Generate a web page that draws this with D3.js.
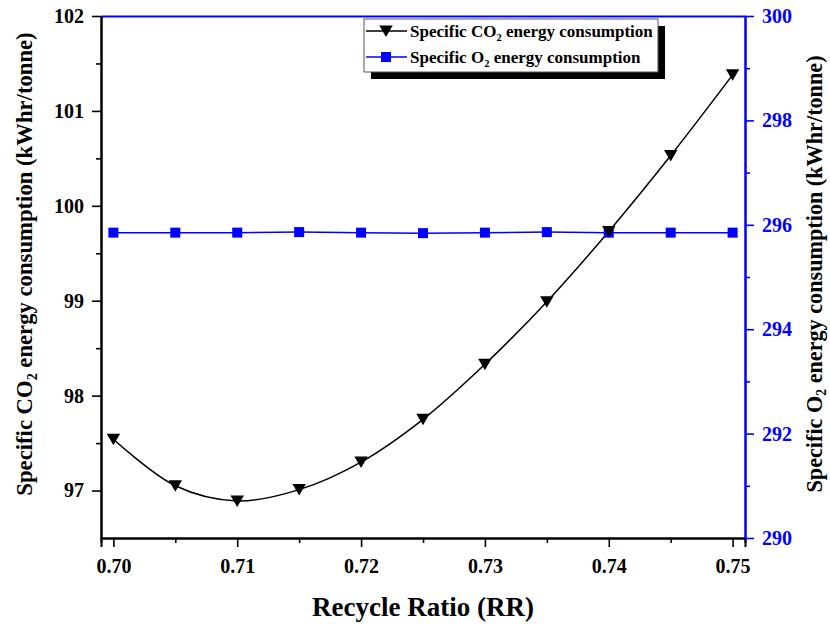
<!DOCTYPE html>
<html lang="en">
<head>
    <meta charset="UTF-8">
    <title>Specific energy consumption vs recycle ratio</title>
    <script src="https://d3js.org/d3.v7.min.js"></script>
</head>
<style>
    html,body {
        margin: 0;
        padding: 0;
        background: #fff;
    }
</style>
<body>
    <div id="svg"></div>
</body>
<script>
    // data
    const recycleRatio = [0.700, 0.705, 0.710, 0.715, 0.720, 0.725, 0.730, 0.735, 0.740, 0.745, 0.750];
    const co2Energy = [97.54, 97.05, 96.89, 97.01, 97.30, 97.75, 98.33, 98.99, 99.73, 100.53, 101.38];
    const o2Energy = [295.85, 295.85, 295.85, 295.86, 295.85, 295.84, 295.85, 295.86, 295.85, 295.85, 295.85];
    const xTicks = [0.70, 0.71, 0.72, 0.73, 0.74, 0.75];
    const leftTicks = [97, 98, 99, 100, 101, 102];
    const rightTicks = [290, 292, 294, 296, 298, 300];

    const width = 830;
    const height = 627;
    const padding = {top: 16, right: 85, bottom: 89, left: 101};
    const innerW = width - padding.left - padding.right;
    const innerH = height - padding.top - padding.bottom;
    const blue = '#0000ff';
    const serif = '"Liberation Serif", "Times New Roman", Times, serif';

    const xScale = d3.scaleLinear().domain([0.699, 0.751]).range([0, innerW]);
    const yLeft = d3.scaleLinear().domain([96.5, 102]).range([innerH, 0]);
    const yRight = d3.scaleLinear().domain([290, 300]).range([innerH, 0]);

    const svg = d3.select('#svg').append('svg')
        .attr('width', width)
        .attr('height', height);
    const g = svg.append('g').attr('transform', `translate(${padding.left}, ${padding.top})`);

    // axis colours, widths, label font
    const styleAxis = (sel, color) => {
        sel.attr('font-family', serif).attr('font-weight', 'bold');
        sel.select('.domain').attr('stroke', color).attr('stroke-width', 2);
        sel.selectAll('.tick line').attr('stroke', color).attr('stroke-width', 1.6);
        sel.selectAll('.tick text').attr('fill', color).attr('font-size', '20px');
    };

    // minor ticks first, then major ticks with labels
    const xMinor = d3.range(0.705, 0.75, 0.01);
    g.append('g').attr('transform', `translate(0, ${innerH})`)
        .call(d3.axisBottom(xScale).tickValues(xMinor).tickSize(5).tickFormat(''))
        .call(s => styleAxis(s, '#000'));
    g.append('g').attr('transform', `translate(0, ${innerH})`)
        .call(d3.axisBottom(xScale).tickValues(xTicks).tickSize(9).tickPadding(12).tickFormat(d3.format('.2f')))
        .call(s => styleAxis(s, '#000'));

    // top frame in blue
    g.append('g')
        .call(d3.axisTop(xScale).tickValues([]).tickSizeOuter(0))
        .call(s => styleAxis(s, blue));

    const leftMinor = d3.range(97.5, 102, 1);
    g.append('g')
        .call(d3.axisLeft(yLeft).tickValues(leftMinor).tickSize(5).tickFormat('').tickSizeOuter(0))
        .call(s => styleAxis(s, '#000'));
    g.append('g')
        .call(d3.axisLeft(yLeft).tickValues(leftTicks).tickSize(9).tickPadding(8).tickSizeOuter(0).tickFormat(d3.format('d')))
        .call(s => styleAxis(s, '#000'));

    const rightMinor = d3.range(291, 300, 2);
    g.append('g').attr('transform', `translate(${innerW}, 0)`)
        .call(d3.axisRight(yRight).tickValues(rightMinor).tickSize(5).tickFormat('').tickSizeOuter(0))
        .call(s => styleAxis(s, blue));
    g.append('g').attr('transform', `translate(${innerW}, 0)`)
        .call(d3.axisRight(yRight).tickValues(rightTicks).tickSize(9).tickPadding(8).tickSizeOuter(0).tickFormat(d3.format('d')))
        .call(s => styleAxis(s, blue));

    // text with a subscript 2
    const subText = (sel, before, after, size, shift) => {
        sel.append('tspan').text(before);
        sel.append('tspan').text('2')
            .attr('font-size', size * 0.62 + 'px')
            .attr('dy', size * shift);
        sel.append('tspan').text(after)
            .attr('dy', -size * shift);
    };

    // lines
    const co2Line = d3.line()
        .x((d, i) => xScale(recycleRatio[i]))
        .y(d => yLeft(d))
        .curve(d3.curveCatmullRom);
    g.append('path').datum(co2Energy)
        .attr('fill', 'none').attr('stroke', '#000').attr('stroke-width', 1.5)
        .attr('d', co2Line);

    const o2Line = d3.line()
        .x((d, i) => xScale(recycleRatio[i]))
        .y(d => yRight(d));
    g.append('path').datum(o2Energy)
        .attr('fill', 'none').attr('stroke', blue).attr('stroke-width', 1.5)
        .attr('d', o2Line);

    const triPath = 'M-6.7,-5.5L6.7,-5.5L0,6Z';
    g.selectAll('.sq').data(o2Energy).enter().append('rect')
        .attr('class', 'sq')
        .attr('x', (d, i) => xScale(recycleRatio[i]) - 5)
        .attr('y', d => yRight(d) - 5)
        .attr('width', 10).attr('height', 10)
        .attr('fill', blue);
    g.selectAll('.tri').data(co2Energy).enter().append('path')
        .attr('class', 'tri')
        .attr('d', triPath)
        .attr('transform', (d, i) => `translate(${xScale(recycleRatio[i])}, ${yLeft(d)})`)
        .attr('fill', '#000');

    // axis titles
    svg.append('text')
        .attr('x', padding.left + innerW / 2)
        .attr('y', 616)
        .attr('text-anchor', 'middle')
        .attr('font-size', '27px')
        .text('Recycle Ratio (RR)');

    const leftTitle = svg.append('text')
        .attr('transform', 'translate(32, 264) rotate(-90)')
        .attr('text-anchor', 'middle')
        .attr('font-size', '22.7px');
    subText(leftTitle, 'Specific CO', ' energy consumption (kWhr/tonne)', 22.7, 0.22);

    const rightTitle = svg.append('text')
        .attr('transform', 'translate(822, 274) rotate(-90)')
        .attr('text-anchor', 'middle')
        .attr('font-size', '22.2px');
    subText(rightTitle, 'Specific O', ' energy consumption (kWhr/tonne)', 22.2, 0.16);

    // legend
    const lg = svg.append('g').attr('transform', 'translate(364, 19)');
    lg.append('rect').attr('x', 7).attr('y', 7).attr('width', 294).attr('height', 53).attr('fill', '#000');
    lg.append('rect').attr('x', 0).attr('y', 0).attr('width', 294).attr('height', 53)
        .attr('fill', '#fff').attr('stroke', '#555').attr('stroke-width', 1);
    const legendRows = [
        {before: 'Specific CO', color: '#000', y: 12, mark: 'tri'},
        {before: 'Specific O', color: blue, y: 38, mark: 'sq'}
    ];
    legendRows.forEach(r => {
        lg.append('line').attr('x1', 2).attr('x2', 43).attr('y1', r.y).attr('y2', r.y)
            .attr('stroke', r.color).attr('stroke-width', 1.5);
        if (r.mark === 'tri') {
            lg.append('path').attr('d', triPath).attr('transform', `translate(22, ${r.y})`).attr('fill', '#000');
        } else {
            lg.append('rect').attr('x', 17).attr('y', r.y - 5).attr('width', 10).attr('height', 10).attr('fill', blue);
        }
        const t = lg.append('text').attr('x', 46).attr('y', r.y + 6).attr('font-size', '17px');
        subText(t, r.before, ' energy consumption', 17, 0.22);
    });

    // every text in bold serif
    svg.selectAll('text')
        .style('font-family', serif)
        .style('font-weight', 'bold');
</script>
</html>
